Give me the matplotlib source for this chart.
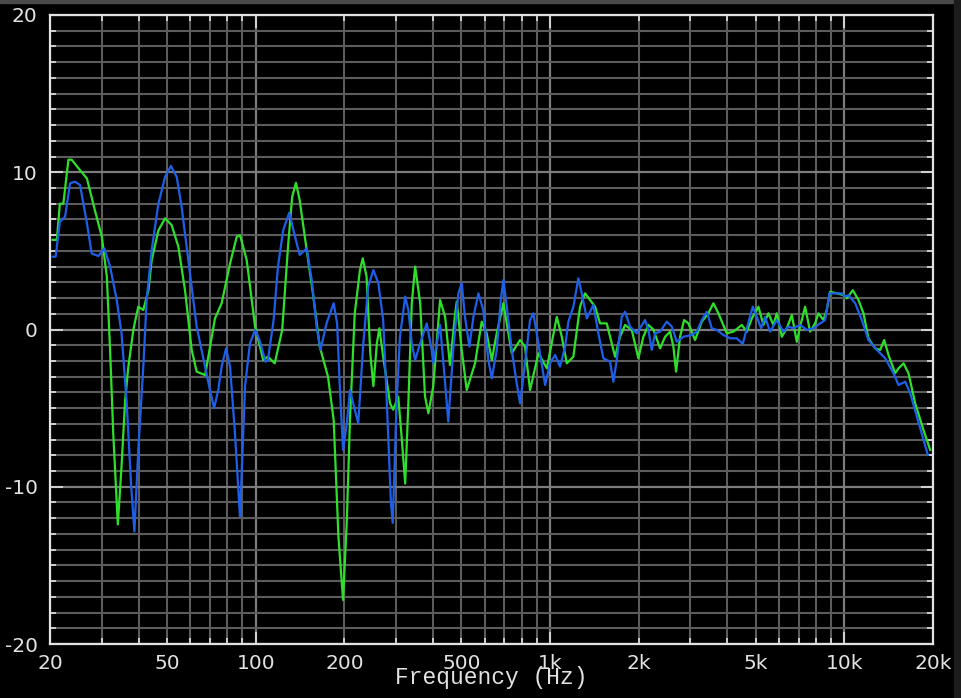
import numpy as np
import matplotlib
matplotlib.use('Agg')
import matplotlib.pyplot as plt
from matplotlib.ticker import FixedLocator, FuncFormatter, MultipleLocator
from matplotlib.patches import Rectangle


# frequency [Hz], level [dB]
green_freq = [20.4, 21.1, 21.6, 22.2, 23.1, 23.7, 25.0, 26.7, 28.4, 30.0, 31.2, 32.0, 32.8, 34.0,
              35.0, 36.0, 36.9, 38.4, 39.9, 41.5, 43.2, 44.3, 46.7, 49.2, 51.8, 54.6, 57.5, 60.6,
              63.0, 67.3, 70.9, 72.7, 76.6, 81.8, 86.2, 88.4, 93.2, 99.5, 106, 110, 116, 123, 129,
              133, 137, 141, 149, 157, 165, 176, 184, 191, 198, 204, 209, 217, 226, 231, 238, 245,
              251, 258, 263, 271, 286, 293, 305, 313, 322, 330, 339, 348, 362, 376, 386, 401, 423,
              440, 457, 476, 482, 501, 521, 556, 586, 609, 634, 659, 694, 741, 791, 822, 855, 913,
              975, 1054, 1096, 1140, 1200, 1264, 1315, 1367, 1422, 1479, 1558, 1620, 1663, 1729,
              1798, 1895, 1995, 2075, 2158, 2244, 2365, 2459, 2557, 2624, 2680, 2765, 2853, 2951,
              3109, 3277, 3450, 3588, 3731, 3985, 4196, 4482, 4661, 4847, 5104, 5307, 5519, 5739,
              5893, 6128, 6373, 6627, 6891, 7071, 7354, 7647, 7953, 8160, 8486, 8714, 8942, 9424,
              9925, 10190, 10680, 11160, 11610, 12070, 12720, 13230, 13650, 14120, 14880, 15270,
              15880, 16510, 17400, 18570, 19570]
green_db = [5.7, 5.7, 8.0, 8.0, 10.8, 10.8, 10.25, 9.6, 7.6, 5.9, 3.36, -1.3, -6.6, -12.4,
            -8.7, -4.5, -2.4, 0.0, 1.45, 1.24, 2.5, 4.4, 6.3, 7.07, 6.64, 5.26, 2.5, -1.3,
            -2.68, -2.9, -0.46, 0.7, 1.67, 4.2, 5.9, 6.0, 4.4, 0.18, -1.94, -1.73, -2.15, -0.03, 5.48,
            8.44, 9.33, 8.23, 5.05, 2.09, -1.09, -3.0, -5.75, -13.2, -17.2, -12.1, -5.75, 1.03, 3.78, 4.53, 3.36, -1.5,
            -3.6, -0.88, 0.08, -1.73, -4.7, -5.1, -4.27, -6.8, -9.8, -4.7, 1.67, 4.0, 1.67, -4.27, -5.33, -3.6, 1.88,
            0.8, -2.26, 1.03, 1.77, -1.3, -3.85, -2.15, 0.5, -0.24, -1.94, -0.24, 1.67, -1.51, -0.67, -1.1, -3.85, -1.51,
            -2.47, 0.8, -0.46, -2.15, -1.73, 1.45, 2.3, 1.88, 1.45, 0.39, 0.39, -0.88, -1.73, -0.46,
            0.29, -0.03, -1.83, -0.46, 0.29, 0.0, -1.2, -0.46, -0.14, -1.09, -2.68, -0.46, 0.6, 0.39,
            -0.67, 0.5, 1.03, 1.67, 1.03, -0.24, -0.14, 0.29, -0.14, 0.7, 1.45, 0.29, 1.03, 0.29,
            1.03, -0.46, 0.08, 0.92, -0.78, 0.18, 1.45, -0.14, 0.39, 1.03, 0.6, 1.24, 2.4, 2.3,
            2.19, 1.98, 2.5, 1.88, 1.03, -0.56, -1.2, -1.3, -0.67, -1.62, -2.78, -2.47,
            -2.15, -2.78, -4.7, -6.4, -7.66]

blue_freq = [20.4, 20.9, 21.6, 22.5, 23.4, 24.3, 25.3, 26.7, 27.7, 29.2, 30.6, 32.0, 33.7, 35.0,
             36.4, 37.7, 38.7, 39.9, 41.5, 42.6, 44.3, 46.7, 49.2, 51.5, 53.9, 56.0, 59.0, 63.0,
             67.3, 69.9, 72.2, 74.6, 76.6, 79.3, 81.8, 85.0, 88.4, 92.0, 95.6, 99.5, 103, 108, 110,
             115, 119, 124, 130, 136, 141, 149, 155, 161, 166, 174, 184, 189, 193, 198, 204, 209,
             217, 223, 232, 241, 251, 261, 271, 279, 288, 292, 301, 309, 322, 330, 339, 348, 362,
             381, 396, 401, 423, 440, 451, 469, 488, 501, 514, 532, 549, 571, 593, 617, 634, 659,
             680, 694, 713, 741, 767, 791, 822, 855, 877, 913, 962, 1000, 1040, 1081, 1125, 1154,
             1200, 1248, 1281, 1333, 1403, 1459, 1517, 1599, 1641, 1685, 1752, 1798, 1870, 1970,
             2103, 2158, 2216, 2274, 2365, 2492, 2592, 2695, 2838, 3030, 3151, 3277, 3408, 3544,
             3685, 3880, 4089, 4310, 4516, 4661, 4884, 5040, 5212, 5378, 5592, 5893, 6204, 6452,
             6710, 7071, 7452, 7848, 8270, 8600, 8894, 9300, 9800, 10060, 10320, 10880, 11460,
             12070, 12890, 13760, 14680, 15270, 16090, 16730, 17630, 18570, 19210]
blue_db = [4.63, 4.63, 6.85, 7.17, 9.3, 9.4, 9.19, 6.75, 4.84, 4.67, 5.16, 4.0, 1.88, -0.24,
           -4.5, -9.8, -12.85, -7.66, -2.36, 1.88, 5.05, 8.0, 9.7, 10.4, 9.7, 7.8, 4.4, 0.18,
           -2.36, -3.85, -5.0, -3.85, -2.36, -1.2, -2.36, -6.6, -11.9, -3.6, -0.88, -0.03, -0.67, -2.05, -1.94,
           0.6, 4.0, 6.33, 7.43, 5.9, 4.74, 5.16, 3.15, 0.18, -1.3, 0.39, 1.67, 0.39, -3.6, -7.66, -5.96, -3.85,
           -5.1, -5.96, -0.88, 2.72, 3.78, 2.94, 0.6, -4.7, -11.05, -12.3, -4.7, -0.46, 2.09, 1.24, -0.88, -1.94, -0.88,
           0.39, -1.3, -2.15, 0.29, -3.42, -5.86, -1.3, 2.3, 2.94, 0.8, -1.09, 0.8, 2.3, 1.24, -1.94, -3.1, -1.3,
           1.88, 3.15, 1.45, -1.3, -3.2, -4.7, -2.15, 0.6, 1.03, -0.88, -3.53, -2.15, -1.62, -2.36, -1.09, 0.5,
           1.45, 3.25, 2.3, 0.7, 1.56, -0.24, -1.83, -2.05, -3.32, -1.94, 0.8, 1.13, 0.18, -0.24,
           0.6, -0.03, -1.3, -0.24, -0.14, 0.5, 0.18, -0.78, -0.46, -0.35, -0.14, 0.6, 1.13, 0.08,
           -0.03, -0.35, -0.56, -0.56, -0.92, 0.08, 1.45, 0.8, 0.08, 0.8, -0.14, 0.6, -0.14, 0.18,
           0.08, 0.29, -0.03, 0.08, 0.39, 0.6, 2.3, 2.3, 2.3, 2.09, 2.19, 1.67, 0.6,
           -0.67, -1.3, -1.83, -2.78, -3.53, -3.32, -4.05, -5.54, -7.0, -7.98]

xtick_vals = [20, 50, 100, 200, 500, 1000, 2000, 5000, 10000, 20000]
xtick_labels = ['20', '50', '100', '200', '500', '1k', '2k', '5k', '10k', '20k']
ytick_vals = [-20, -10, 0, 10, 20]
ytick_labels = ['-20', '-10', '0', '10', '20']

FG = '#e2e2e2'


def plot():
    fig = plt.figure(figsize=(9.61, 6.98), dpi=100, facecolor='black')
    ax = fig.add_axes([50 / 961, 1 - 644 / 698, 883 / 961, 629 / 698])
    ax.set_facecolor('black')

    ax.plot(green_freq, green_db, color='#2ee02a', lw=1.6, zorder=3)
    ax.plot(blue_freq, blue_db, color='#1d5fe8', lw=1.6, zorder=4)

    ax.set_xscale('log')
    ax.set_xlim(20, 20000)
    ax.set_ylim(-20, 20)

    decades = [100, 1000, 10000]
    minors = [m * d for d in (10, 100, 1000) for m in range(2, 10)] + [20000]
    labels = dict(zip(xtick_vals, xtick_labels))
    fmt = FuncFormatter(lambda v, pos: labels.get(int(round(v)), ''))
    ax.xaxis.set_major_locator(FixedLocator(decades))
    ax.xaxis.set_minor_locator(FixedLocator(minors))
    ax.xaxis.set_major_formatter(fmt)
    ax.xaxis.set_minor_formatter(fmt)

    ax.set_yticks(ytick_vals)
    ax.set_yticklabels(ytick_labels)
    ax.yaxis.set_minor_locator(MultipleLocator(1))

    ax.grid(which='minor', color='#5c5c5c', lw=1.5, zorder=1)
    ax.grid(which='major', color='#7c7c7c', lw=1.6, zorder=1)

    ax.tick_params(which='both', direction='in', top=True, right=True, color=FG,
                   labelcolor=FG, labelsize=14.5, width=1.2)
    ax.tick_params(which='major', length=9)
    ax.tick_params(which='minor', length=4)
    ax.tick_params(axis='x', which='both', pad=7)
    ax.tick_params(axis='y', which='both', pad=9)

    for s in ax.spines.values():
        s.set_color(FG)
        s.set_linewidth(1.6)

    fig.text(491.5 / 961, 1 - 684 / 698, 'Frequency (Hz)', ha='center', va='baseline',
             color=FG, fontsize=16.5, family='Liberation Mono')

    # screenshot edges
    fig.patches.append(Rectangle((0, 1 - 3 / 698), 1, 3 / 698, transform=fig.transFigure,
                                 color='#4a4a4a', zorder=0))
    fig.patches.append(Rectangle((954 / 961, 0), 7 / 961, 1, transform=fig.transFigure,
                                 color='#1c1c1c', zorder=0))

    plt.savefig('out.png', dpi=100, facecolor='black')


if __name__ == '__main__':
    plt.rcParams['axes.unicode_minus'] = False
    plot()
